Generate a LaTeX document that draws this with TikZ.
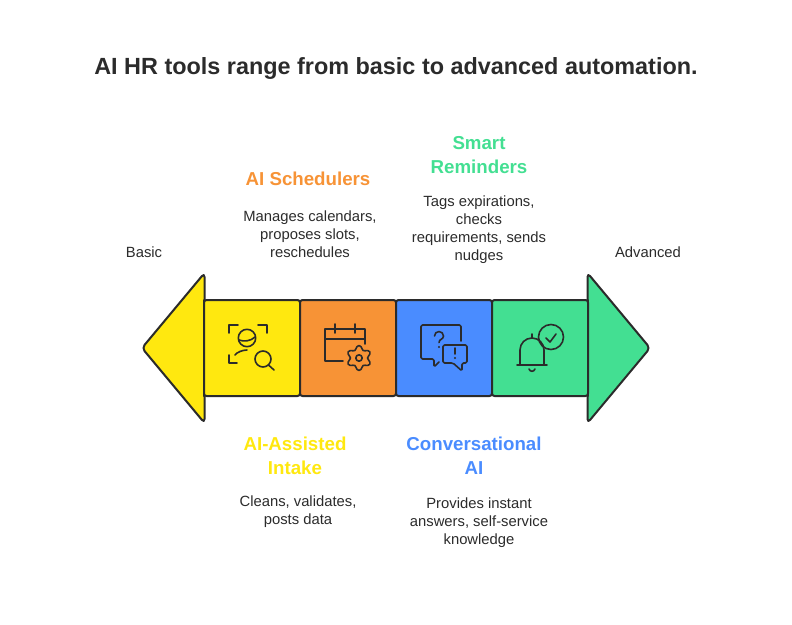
\documentclass[tikz,border=0pt]{standalone}
\usepackage{fontspec}
\setmainfont{Liberation Sans}
\usetikzlibrary{positioning}
\definecolor{cyellow}{RGB}{255,232,15}
\definecolor{corange}{RGB}{247,147,54}
\definecolor{cblue}{RGB}{74,140,255}
\definecolor{cgreen}{RGB}{67,223,146}
\definecolor{cink}{RGB}{43,43,43}
\tikzset{
  stage/.style={
    rectangle, rounded corners=2.5pt,
    draw=cink, line width=2pt,
    minimum size=96pt, inner sep=0pt, outer sep=0pt
  },
  head/.style={
    draw=cink, line width=2pt, rounded corners=4pt, line join=round
  },
  icon/.style={
    draw=cink, line width=1.6pt, line cap=round, line join=round
  },
  heading/.style={
    font=\fontsize{18.7}{24}\selectfont\bfseries, align=center, inner sep=0pt
  },
  blurb/.style={
    font=\fontsize{14.8}{18}\selectfont, align=center, inner sep=0pt,
    text=cink
  }
}
\begin{document}
\begin{tikzpicture}[x=1pt, y=-1pt]
    \useasboundingbox (0,0) rectangle (792,624);

    %% ---- Title ------------------------------------------------------
    \node[font=\fontsize{23.4}{28}\selectfont\bfseries, text=cink, inner sep=0pt]
      (title) at (396,68.5) {AI HR tools range from basic to advanced automation.};

    %% ---- Arrow heads ------------------------------------------------
    \coordinate (ltip) at (142,348);
    \coordinate (rtip) at (650,348);
    \draw[head, fill=cyellow] (204.5,273) -- (ltip) -- (204.5,423) -- cycle;
    \draw[head, fill=cgreen] (587.5,273) -- (rtip) -- (587.5,423) -- cycle;

    %% ---- Stages -----------------------------------------------------
    \node[stage, fill=cyellow] (intake) at (252,348) {};
    \node[stage, fill=corange, right=0pt of intake] (sched) {};
    \node[stage, fill=cblue, right=0pt of sched] (conv) {};
    \node[stage, fill=cgreen, right=0pt of conv] (remind) {};
    \draw[cink, line width=2pt, line cap=round] (intake.north west) -- (intake.south west);
    \draw[cink, line width=2pt, line cap=round] (remind.north east) -- (remind.south east);

    %% ---- End labels -------------------------------------------------
    \node[blurb] (basic) at (144,252) {Basic};
    \node[blurb] (advanced) at (648,252) {Advanced};

    %% ---- Labels above -----------------------------------------------
    \node[blurb, above=42pt of sched, xshift=-38pt] (schedtext)
      {Manages calendars,\\proposes slots,\\reschedules};
    \node[heading, text=corange, above=25pt of schedtext, xshift=-2pt] (schedhead) {AI Schedulers};

    \node[blurb, above=36pt of remind, xshift=-61pt] (remindtext)
      {Tags expirations,\\checks\\requirements, sends\\nudges};
    \node[heading, text=cgreen, above=22pt of remindtext] (remindhead) {Smart\\Reminders};

    %% ---- Labels below -----------------------------------------------
    \node[heading, text=cyellow, below=41pt of intake, xshift=43pt] (intakehead)
      {AI-Assisted\\Intake};
    \node[blurb, below=20pt of intakehead, xshift=3pt] (intaketext)
      {Cleans, validates,\\posts data};

    \node[heading, text=cblue, below=41pt of conv, xshift=30pt] (convhead)
      {Conversational\\AI};
    \node[blurb, below=23pt of convhead, xshift=5pt] (convtext)
      {Provides instant\\answers, self-service\\knowledge};

    %% ---- Icon: intake -----------------------------------------------
    \begin{scope}[shift={(intake.center)}, icon]
      \draw (-23,-15) -- (-23,-23) -- (-14,-23);
      \draw (6,-23) -- (15,-23) -- (15,-15);
      \draw (-23,7) -- (-23,15) -- (-15,15);
      \draw (-5,-10) circle (8.7);
      \draw (-13,-8) .. controls (-8,-6) and (-1,-7) .. (3,-11);
      \draw (-17,7) .. controls (-15,4) and (-9,2) .. (-5,2);
      \draw (11,11) circle (8);
      \draw (16.5,17) -- (22,22);
    \end{scope}

    %% ---- Icon: calendar ---------------------------------------------
    \begin{scope}[shift={(sched.center)}, icon]
      \draw (-5,13) -- (-23,13) -- (-23,-19) -- (17,-19) -- (17,-4);
      \draw (-23,-9) -- (17,-9);
      \draw (-13,-24) -- (-13,-15);
      \draw (7,-24) -- (7,-15);
      \draw plot[smooth cycle, samples at={0,10,...,350}, variable=\a]
        ({11+(10.5-2*cos(6*\a))*cos(\a)},{10+(10.5-2*cos(6*\a))*sin(\a)});
      \draw (11,10) circle (3.2);
    \end{scope}

    %% ---- Icon: speech bubbles ---------------------------------------
    \begin{scope}[shift={(conv.center)}, icon]
      \draw[rounded corners=1.5pt] (17,-7) -- (17,-23) -- (-23,-23) -- (-23,11)
        -- (-10,11) -- (-10,19) -- (-5,14);
      \draw[rounded corners=1.5pt] (-1,-3) -- (23,-3) -- (23,15) -- (18,15)
        -- (18,23) -- (9,15) -- (-1,15) -- cycle;
      \draw (-9.5,-12) arc[start angle=180, end angle=360, radius=4.5]
        .. controls (-0.5,-8.5) and (-5,-9) .. (-5,-5.5);
      \fill[cink] (-5,-1) circle (1.1);
      \draw (11,0) -- (11,6);
      \fill[cink] (11,10) circle (1.1);
    \end{scope}

    %% ---- Icon: bell -------------------------------------------------
    \begin{scope}[shift={(remind.center)}, icon]
      \draw (11,-11) circle (12.5);
      \draw (6,-10) -- (10,-6) -- (16,-14);
      \draw (-23,17) -- (7,17);
      \draw (-20,17) -- (-20,2) arc[start angle=180, end angle=360, radius=12] -- (4,17);
      \draw (-8,-14) -- (-8,-10);
      \draw (-11,21) .. controls (-10,24) and (-6,24) .. (-5,21);
    \end{scope}
  \end{tikzpicture}
\end{document}
